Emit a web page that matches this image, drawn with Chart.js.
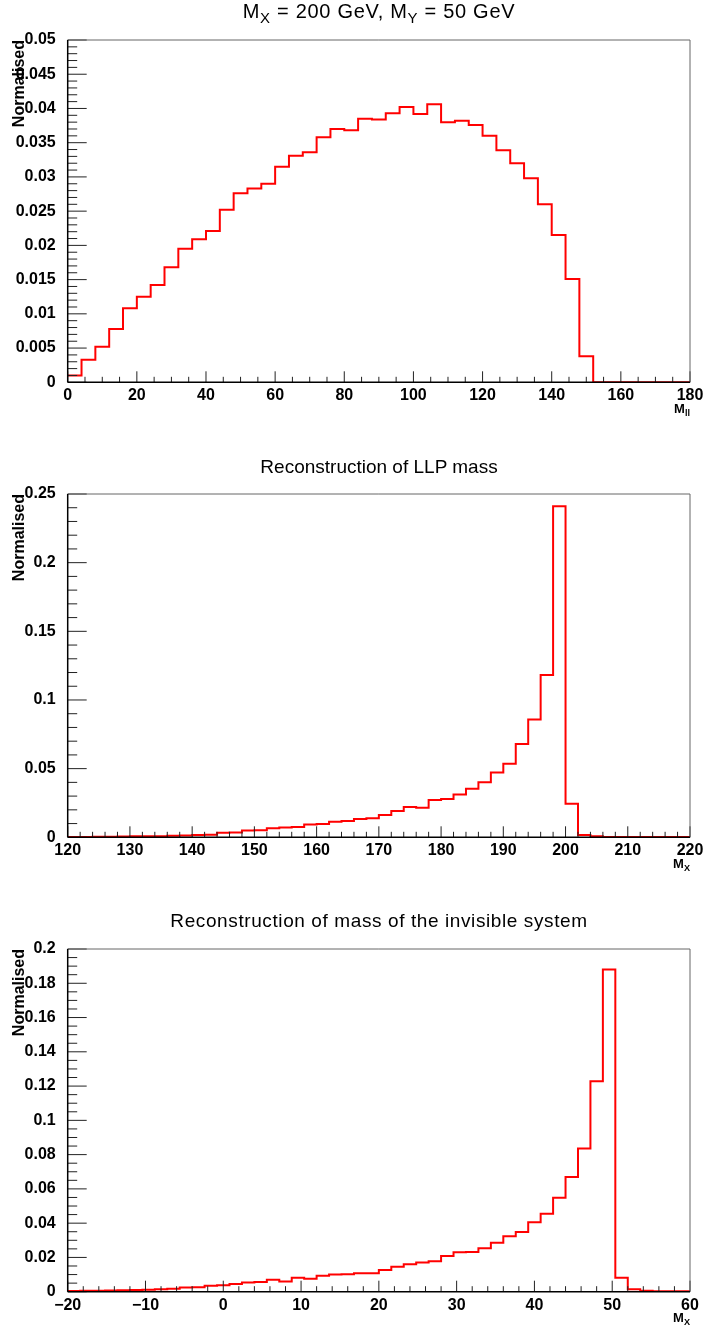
<!DOCTYPE html>
<html>
<head>
<meta charset="utf-8">
<script src="https://cdn.jsdelivr.net/npm/chart.js@4.4.1/dist/chart.umd.min.js"></script>
<style>
  body { margin: 0; background: #fff; }
  #page { position: relative; width: 705px; height: 1331px; font-family: "Liberation Sans", Arial, sans-serif; color: #000; }
  canvas { position: absolute; left: 0; }
  .title { position: absolute; left: 68px; width: 622px; text-align: center; font-size: 19px; line-height: 19px; white-space: nowrap; }
  .xlabel { position: absolute; right: 15px; font-size: 13px; line-height: 13px; font-weight: bold; white-space: nowrap; }
  .title sub { font-size: 75%; position: relative; top: 0.3em; vertical-align: baseline; }
  .xlabel sub { font-size: 70%; position: relative; top: 0.35em; vertical-align: baseline; }
</style>
</head>
<body>
<div id="page">
  <canvas id="mll" width="705" height="445" style="top:0"></canvas>
  <canvas id="llp" width="705" height="455" style="top:445px"></canvas>
  <canvas id="inv" width="705" height="431" style="top:900px"></canvas>

  <div class="title" style="top:1px;font-size:20px;line-height:20px;letter-spacing:0.7px">M<sub>X</sub> = 200 GeV, M<sub>Y</sub> = 50 GeV</div>
  <div class="title" style="top:457px">Reconstruction of LLP mass</div>
  <div class="title" style="top:911px;letter-spacing:0.6px">Reconstruction of mass of the invisible system</div>

  <div class="xlabel" style="top:402px">M<sub>ll</sub></div>
  <div class="xlabel" style="top:857px">M<sub>X</sub></div>
  <div class="xlabel" style="top:1311px">M<sub>X</sub></div>
</div>

<script>
// M_ll, 45 bins of 4 GeV from 0 to 180
const mllMin = 0, mllBinWidth = 4;
const mllValues = [
  0.0010, 0.0033, 0.0052, 0.0078, 0.0108, 0.0125, 0.0142, 0.0168, 0.0195, 0.0209,
  0.0221, 0.0252, 0.0276, 0.0283, 0.0290, 0.0315, 0.0331, 0.0336, 0.0358, 0.0370,
  0.0368, 0.0385, 0.0384, 0.0393, 0.0402, 0.0392, 0.0406, 0.0380, 0.0382, 0.0376,
  0.0360, 0.0339, 0.0320, 0.0298, 0.0260, 0.0215, 0.0151, 0.0038, 0, 0,
  0, 0, 0, 0, 0
];

// LLP mass, 50 bins of 2 GeV from 120 to 220
const llpMin = 120, llpBinWidth = 2;
const llpValues = [
  0.0003, 0.0003, 0.0004, 0.0004, 0.0006, 0.0007, 0.0007, 0.0008, 0.0012, 0.0013,
  0.0017, 0.0018, 0.0033, 0.0035, 0.0050, 0.0052, 0.0066, 0.0072, 0.0075, 0.0093,
  0.0096, 0.0113, 0.0118, 0.0133, 0.0138, 0.0163, 0.0192, 0.0221, 0.0216, 0.0272,
  0.0279, 0.0311, 0.0354, 0.0400, 0.0471, 0.0536, 0.0680, 0.0857, 0.1182, 0.2410,
  0.0245, 0.0017, 0.0007, 0.0003, 0.0003, 0.0002, 0.0002, 0.0002, 0.0002, 0.0002
];

// invisible system mass, 50 bins of 1.6 GeV from -20 to 60
const invMin = -20, invBinWidth = 1.6;
const invValues = [
  0.0004, 0.0005, 0.0006, 0.0007, 0.0008, 0.0010, 0.0011, 0.0015, 0.0017, 0.0024,
  0.0026, 0.0035, 0.0037, 0.0045, 0.0054, 0.0057, 0.0070, 0.0060, 0.0082, 0.0076,
  0.0093, 0.0100, 0.0102, 0.0107, 0.0108, 0.0127, 0.0146, 0.0160, 0.0171, 0.0177,
  0.0208, 0.0230, 0.0232, 0.0253, 0.0286, 0.0323, 0.0348, 0.0405, 0.0455, 0.0549,
  0.0669, 0.0835, 0.1228, 0.1881, 0.0082, 0.0014, 0.0006, 0.0003, 0.0002, 0.0002
];

const FONT = '"Liberation Sans", Arial, sans-serif';

// histogram outline: one point per bin low edge, plus the upper edge of the last bin
function histPoints(min, width, values) {
  const pts = values.map((v, i) => ({ x: min + i * width, y: v }));
  pts.push({ x: min + values.length * width, y: values[values.length - 1] });
  return pts;
}

function line(ctx, x1, y1, x2, y2) {
  ctx.beginPath();
  ctx.moveTo(x1, y1);
  ctx.lineTo(x2, y2);
  ctx.stroke();
}

// ROOT style frame with ticks drawn inside the plot
const rootAxes = {
  id: 'rootAxes',
  afterDatasetsDraw(chart, args, opts) {
    const { ctx, chartArea: a, scales: { x, y } } = chart;
    ctx.save();
    ctx.strokeStyle = '#222';
    ctx.lineWidth = 1;

    let n = Math.round((x.max - x.min) / opts.xMinor);
    for (let i = 0; i <= n; i++) {
      const px = x.getPixelForValue(x.min + i * opts.xMinor);
      const len = i % opts.xSub === 0 ? 11 : 5.5;
      line(ctx, px, a.bottom, px, a.bottom - len);
    }
    n = Math.round((y.max - y.min) / opts.yMinor);
    for (let i = 0; i <= n; i++) {
      const py = y.getPixelForValue(y.min + i * opts.yMinor);
      const len = i % opts.ySub === 0 ? 19 : 9.5;
      line(ctx, a.left, py, a.left + len, py);
    }

    ctx.strokeStyle = '#666';
    line(ctx, a.left, a.top, a.right, a.top);
    line(ctx, a.right, a.top, a.right, a.bottom);
    ctx.strokeStyle = '#000';
    ctx.lineWidth = 1.5;
    line(ctx, a.left, a.top, a.left, a.bottom);
    line(ctx, a.left, a.bottom, a.right, a.bottom);
    ctx.restore();
  }
};

function makeHist(id, c) {
  return new Chart(document.getElementById(id), {
    type: 'line',
    data: {
      datasets: [{
        data: histPoints(c.min, c.binWidth, c.values),
        stepped: 'before',
        borderColor: '#ff0000',
        borderWidth: 2,
        pointRadius: 0,
        fill: false
      }]
    },
    options: {
      responsive: false,
      animation: false,
      layout: { padding: { top: c.top, right: 15, left: 0, bottom: 0 } },
      plugins: {
        legend: { display: false },
        tooltip: { enabled: false },
        rootAxes: { xMinor: c.xMinor, xSub: c.xSub, yMinor: c.yMinor, ySub: c.ySub }
      },
      scales: {
        x: {
          type: 'linear',
          min: c.min,
          max: c.min + c.values.length * c.binWidth,
          grid: { display: false },
          border: { display: false },
          afterFit: s => { s.height = c.xHeight; },
          ticks: {
            stepSize: c.xStep,
            autoSkip: false,
            maxRotation: 0,
            padding: -4,
            color: '#000',
            font: { family: FONT, size: 16, weight: 'bold' },
            callback: v => v < 0 ? '\u2212' + Math.abs(v) : String(v)
          }
        },
        y: {
          min: 0,
          max: c.yMax,
          grid: { display: false },
          border: { display: false },
          afterFit: s => { s.width = 67.7; },
          title: {
            display: true,
            text: 'Normalised',
            align: 'end',
            color: '#000',
            padding: { top: 10, bottom: 0 },
            font: { family: FONT, size: 16, weight: 'bold' }
          },
          ticks: {
            stepSize: c.yStep,
            padding: 4,
            color: '#000',
            font: { family: FONT, size: 16, weight: 'bold' },
            callback: v => String(+v.toFixed(4))
          }
        }
      }
    },
    plugins: [rootAxes]
  });
}

makeHist('mll', {
  min: mllMin, binWidth: mllBinWidth, values: mllValues,
  top: 40, xHeight: 62.7, xStep: 20, xMinor: 5, xSub: 4,
  yMax: 0.05, yStep: 0.005, yMinor: 0.001, ySub: 5
});
makeHist('llp', {
  min: llpMin, binWidth: llpBinWidth, values: llpValues,
  top: 49, xHeight: 62.7, xStep: 10, xMinor: 2, xSub: 5,
  yMax: 0.25, yStep: 0.05, yMinor: 0.01, ySub: 5
});
makeHist('inv', {
  min: invMin, binWidth: invBinWidth, values: invValues,
  top: 49, xHeight: 39.3, xStep: 10, xMinor: 2, xSub: 5,
  yMax: 0.2, yStep: 0.02, yMinor: 0.005, ySub: 4
});
</script>
</body>
</html>
